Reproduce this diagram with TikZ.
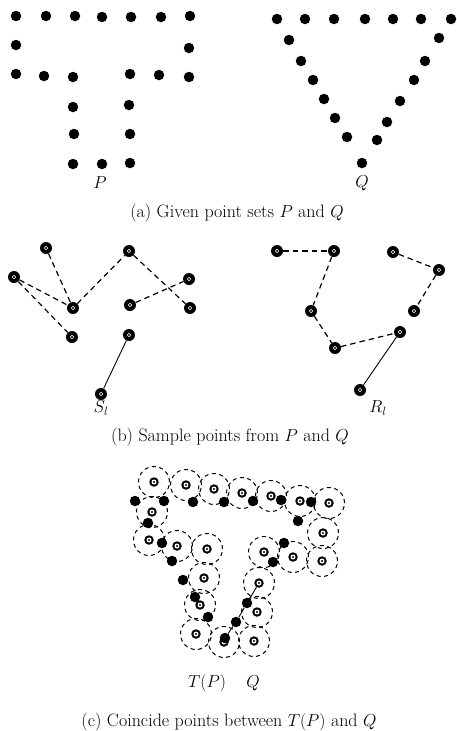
\documentclass[tikz,border=0pt]{standalone}
\begin{document}
\begin{tikzpicture}[x=1pt,y=-1pt,
 dot/.style={circle,fill=black,inner sep=0pt,minimum size=10.5pt},
 spt/.style={circle,fill=black,inner sep=0pt,minimum size=12pt,
   path picture={\draw[white,line width=0.6pt] (path picture bounding box.center) circle (1.8pt);}},
 qpt/.style={circle,fill=black,inner sep=0pt,minimum size=9.5pt,
   path picture={\fill[white] (path picture bounding box.center) circle (2.5pt);
                 \fill[black] (path picture bounding box.center) circle (1.1pt);}},
 zone/.style={circle,draw,dash pattern=on 4pt off 3.5pt,line width=1pt,inner sep=0pt,minimum size=31pt},
 lnk/.style={dash pattern=on 5.5pt off 4pt,line width=1.2pt},
 sol/.style={line width=0.9pt},
 lbl/.style={font=\fontsize{18}{21}\selectfont,inner sep=0pt}]
\useasboundingbox (0,0) rectangle (457,731);

% ---------- (a) ----------
\foreach \x/\y [count=\i] in {16/16,46/16,75/16,102/17,131/17,161/17,190/16,
  16/45,189/48,16/74,44/76,73/77,130/74,159/75,189/77,
  73/107,129/105,74/134,130/134,73/164,102/164,130/163}
  \node[dot] (P\i) at (\x,\y) {};
\foreach \x/\y [count=\i] in {277/19,305/19,334/19,365/19,393/19,421/19,451/19,
  289/40,301/61,313/80,324/99,335/118,347/137,362/163,
  439/38,425/61,414/80,400/101,387/122,377/140}
  \node[dot] (Q\i) at (\x,\y) {};
\node[lbl] (lP) at (100,183) {$P$};
\node[lbl] (lQ) at (362,183) {$Q$};
\node[lbl] (capa) at (237,213) {(a) Given point sets $P$ and $Q$};

% ---------- (b) ----------
\node[spt] (s1) at (46,248) {};
\node[spt] (s2) at (129,251) {};
\node[spt] (s3) at (14,277) {};
\node[spt] (s4) at (189,279) {};
\node[spt] (s5) at (73,308) {};
\node[spt] (s6) at (130,305) {};
\node[spt] (s7) at (190,308) {};
\node[spt] (s8) at (72,337) {};
\node[spt] (s9) at (129,335) {};
\node[spt] (s10) at (101,394) {};
\draw[lnk] (s1) -- (s5);
\draw[lnk] (s3) -- (s5);
\draw[lnk] (s3) -- (s8);
\draw[lnk] (s5) -- (s2);
\draw[lnk] (s2) -- (s7);
\draw[lnk] (s6) -- (s4);
\draw[sol] (s10) -- (s9);
\node[lbl] (lS) at (101,408) {$S_l$};

\node[spt] (r1) at (277,251) {};
\node[spt] (r2) at (334,251) {};
\node[spt] (r3) at (393,252) {};
\node[spt] (r4) at (439,270) {};
\node[spt] (r5) at (311,311) {};
\node[spt] (r6) at (414,311) {};
\node[spt] (r7) at (400,332) {};
\node[spt] (r8) at (335,348) {};
\node[spt] (r9) at (360,390) {};
\draw[lnk] (r1) -- (r2);
\draw[lnk] (r2) -- (r5);
\draw[lnk] (r5) -- (r8);
\draw[lnk] (r8) -- (r7);
\draw[lnk] (r3) -- (r4);
\draw[lnk] (r4) -- (r6);
\draw[sol] (r9) -- (r7);
\node[lbl] (lR) at (378,408) {$R_l$};
\node[lbl] (capb) at (230,437) {(b) Sample points from $P$ and $Q$};

% ---------- (c) ----------
\foreach \x/\y [count=\i] in {154/482,186/485,214/489,242/493,271/496,300/501,329/503,
  152/512,149/540,177/546,207/549,323/533,264/552,293/557,322/561,
  204/578,259/583,200/605,257/612,196/634,224/642,254/641}
  \node[zone] (Z\i) at (\x,\y) {};
\foreach \x/\y [count=\i] in {154/482,186/485,214/489,242/493,271/496,300/501,329/503,
  152/512,149/540,177/546,207/549,323/533,264/552,293/557,322/561,
  204/578,259/583,200/605,257/612,196/634,224/642,254/641}
  \node[qpt] (C\i) at (\x,\y) {};
\foreach \x/\y [count=\i] in {135/501,164/501,193/502,224/502,253/501,281/500,311/502,
  148/523,162/543,298/521,172/561,284/543,273/562,183/580,195/597,208/617,
  247/603,236/622,225/638}
  \node[dot] (T\i) at (\x,\y) {};
\draw[sol] (C17) -- (T17) -- (T18) -- (T19);
\node[lbl] (lT) at (207,683) {$T(P)$};
\node[lbl] (lQc) at (253,683) {$Q$};
\node[lbl] (capc) at (229,722) {(c) Coincide points between $T(P)$ and $Q$};
\end{tikzpicture}
\end{document}
